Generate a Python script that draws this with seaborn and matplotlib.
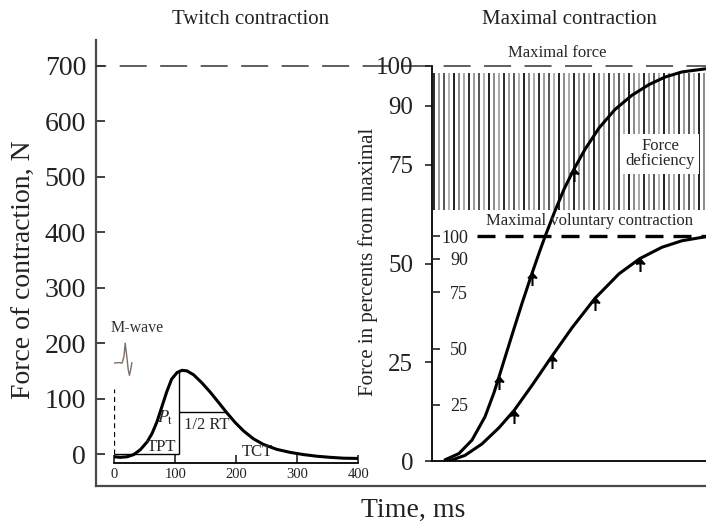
import numpy as np
import matplotlib
matplotlib.use('Agg')
import matplotlib.pyplot as plt
from matplotlib.path import Path
import seaborn as sns

## data
# twitch contraction (time, ms / force, N)
twitch_t = [0, 10, 21, 32, 43, 54, 62, 70, 78, 86, 94, 103, 111, 119, 130, 144,
            157, 171, 184, 198, 212, 228, 244, 266, 288, 310, 332, 354, 375, 400]
twitch_f = [-5, -6, -5, -1, 8, 22, 37, 58, 85, 112, 135, 147, 151, 150, 143, 128,
            112, 93, 75, 57, 41.5, 27.5, 17.5, 8.5, 3, -1, -4, -6, -7.5, -8]
twitch_ticks = [0, 100, 200, 300, 400]
force_ticks = [0, 100, 200, 300, 400, 500, 600, 700]
max_force_n = 700
tpt_ms = 106
peak_n = 150
half_rt_end = 184
half_n = 75

# M-wave trace (small inset)
mwave_t = [0, 8, 13, 16, 18, 20, 23, 25, 27, 29]
mwave_f = [164, 165, 164, 176, 200, 182, 152, 142, 152, 165]

# maximal contraction (arbitrary time units, % of maximal force)
max_t = [13, 27, 40, 53, 62, 67, 73, 82, 90, 100, 107, 113, 122, 132, 142, 153,
         167, 183, 200, 217, 233, 250, 274]
max_pct = [0.3, 1.9, 5.3, 11.2, 17.3, 21.3, 26.2, 33.5, 39.9, 47.5, 52.6, 56.8,
           62.7, 68.8, 73.9, 78.9, 84.3, 89, 92.6, 95.3, 97.2, 98.5, 99.3]
max_mark_t = [67, 100, 142]
max_mark_pct = [21.3, 47.5, 73.9]

# maximal voluntary contraction (% of MVC)
mvc_t = [17, 33, 50, 67, 82, 100, 120, 140, 163, 187, 208, 230, 250, 274]
mvc_pct = [0, 2.5, 7.6, 14.8, 22.4, 33.6, 46.6, 59.2, 72.3, 83.2, 90.0, 95.0,
           97.9, 99.7]
mvc_mark_t = [82, 120, 163, 208]
mvc_mark_pct = [22.4, 46.6, 72.3, 90.0]

outer_pct_ticks = [0, 25, 50, 75, 90, 100]
inner_pct_ticks = [25, 50, 75, 90, 100]

sns.set_style('ticks')
plt.rcParams['font.family'] = ['Liberation Serif', 'DejaVu Serif']
plt.rcParams['mathtext.fontset'] = 'stix'
plt.rcParams['lines.solid_joinstyle'] = 'round'

W, H = 706, 522
fig = plt.figure(figsize=(W / 100, H / 100), dpi=100)


def box(x0, x1, ytop, ybot):
    return [x0 / W, 1 - ybot / H, (x1 - x0) / W, (ybot - ytop) / H]


f_lim = (-57.7, 746.9)

# outer frame, force axis
ax_a = fig.add_axes(box(96, 706, 40, 486))
ax_a.set_facecolor('none')
ax_a.set_ylim(*f_lim)
ax_a.set_xlim(0, 1)
for s in ['top', 'right']:
    ax_a.spines[s].set_visible(False)
for s in ['left', 'bottom']:
    ax_a.spines[s].set_color('#4a4a4a')
    ax_a.spines[s].set_linewidth(1.6)
ax_a.set_yticks(force_ticks)
ax_a.set_xticks([])
ax_a.tick_params(axis='y', direction='in', length=6.5, width=1.2, pad=7.2,
                 labelsize=20, colors='#222222')
ax_a.axhline(max_force_n, color='#333333', lw=1.1, ls=(11, (17.7, 8.8)), zorder=5)

# twitch inset
ax_b = fig.add_axes(box(114.2, 358.4, 40, 486))
ax_b.set_facecolor('none')
ax_b.set_xlim(0, 400)
ax_b.set_ylim(*f_lim)
for s in ['top', 'right', 'left']:
    ax_b.spines[s].set_visible(False)
ax_b.spines['bottom'].set_position(('data', -15.5))
ax_b.spines['bottom'].set_bounds(0, 400)
ax_b.spines['bottom'].set_linewidth(1.3)
ax_b.spines['bottom'].set_color('k')
ax_b.set_xticks(twitch_ticks)
ax_b.set_yticks([])
ax_b.tick_params(axis='x', direction='in', length=5.8, width=1.2, pad=3.6,
                 labelsize=10.5, colors='#222222')
sns.lineplot(x=twitch_t, y=twitch_f, ax=ax_b, color='k', lw=2.2, sort=False,
             errorbar=None)
ax_b.plot(mwave_t, mwave_f, color='#7a6e66', lw=1.0)
ax_b.vlines(0, 0, 118, colors='k', lw=0.9, ls=(0, (4, 3)))
ax_b.hlines(0, 0, tpt_ms, colors='k', lw=1.0)
ax_b.vlines(tpt_ms, 0, peak_n, colors='k', lw=1.0)
ax_b.hlines(half_n, tpt_ms, half_rt_end, colors='k', lw=1.0)
ax_b.text(37, 228, 'M-wave', fontsize=11.5, ha='center', va='center', color='#333333')
ax_b.text(78, 13, 'TPT', fontsize=12, ha='center', va='center')
ax_b.text(84, 66, r'$P_\mathrm{t}$', fontsize=13, ha='center', va='center')
ax_b.text(152, 53, '1/2 RT', fontsize=12, ha='center', va='center')
ax_b.text(234, 3, 'TCT', fontsize=12, ha='center', va='center')

# maximal contraction panel (% of maximal force)
ax_c = fig.add_axes(box(432, 706, 66, 461))
ax_c.set_facecolor('none')
ax_c.set_xlim(0, 274)
ax_c.set_ylim(0, 100)
for s in ['top', 'right']:
    ax_c.spines[s].set_visible(False)
for s in ['left', 'bottom']:
    ax_c.spines[s].set_color('k')
    ax_c.spines[s].set_linewidth(1.3)
ax_c.set_yticks(outer_pct_ticks)
ax_c.set_xticks([])
ax_c.tick_params(axis='y', direction='out', length=5, width=1.2, pad=8.6,
                 labelsize=18, colors='#222222')

# hatching of the force deficiency zone
hatch_x = np.arange(2, 274, 5)
hatch_cols = ['#2b2b2b', '#9a9a9a', '#555555', '#b0b0b0', '#1f1f1f', '#8a8a8a',
              '#a8a8a8']
for i, hx in enumerate(hatch_x):
    ax_c.vlines(hx, 63.5, 98.3, colors=hatch_cols[i % len(hatch_cols)], lw=1.4,
                zorder=1)

sns.lineplot(x=max_t, y=max_pct, ax=ax_c, color='k', lw=2.2, sort=False,
             errorbar=None, zorder=3)

arrow = Path([(0, -1), (0, 0), (-0.35, -0.4), (0, 0), (0.35, -0.4)],
             [Path.MOVETO, Path.LINETO, Path.MOVETO, Path.LINETO, Path.LINETO])
ax_c.plot(max_mark_t, max_mark_pct, ls='none', marker=arrow, ms=18, mew=1.5,
          color='k', zorder=3)

ax_c.text(125, 103.3, 'Maximal force', fontsize=12, ha='center', va='center',
          clip_on=False)
ax_c.text(157, 60.8, 'Maximal voluntary contraction', fontsize=12, ha='center',
          va='center', zorder=4)
ax_c.text(228, 77.8, 'Force\ndeficiency', fontsize=12, ha='center', va='center',
          linespacing=0.95, zorder=4,
          bbox=dict(facecolor='white', edgecolor='none', pad=3))

# inner scale (% of MVC)
ax_d = fig.add_axes(box(432, 706, 66, 461))
ax_d.set_facecolor('none')
ax_d.set_xlim(0, 274)
ax_d.set_ylim(0, 100 * 395 / (461 - 236))
for s in ['top', 'right', 'left', 'bottom']:
    ax_d.spines[s].set_visible(False)
ax_d.set_yticks(inner_pct_ticks)
ax_d.set_xticks([])
ax_d.tick_params(axis='y', direction='in', length=5.8, width=1.2, pad=-25.9,
                 labelsize=13, colors='#222222')
ax_d.hlines(100, 45, 274, colors='k', lw=2.4, ls=(0, (5.4, 3)))
sns.lineplot(x=mvc_t, y=mvc_pct, ax=ax_d, color='k', lw=2.2, sort=False,
             errorbar=None)
ax_d.plot(mvc_mark_t, mvc_mark_pct, ls='none', marker=arrow, ms=18, mew=1.5,
          color='k')

# titles and axis labels
fig.text(251 / W, 1 - 20 / H, 'Twitch contraction', fontsize=15, ha='center',
         va='center', color='#222222')
fig.text(569 / W, 1 - 20 / H, 'Maximal contraction', fontsize=15, ha='center',
         va='center', color='#222222')
fig.text(24 / W, 1 - 270 / H, 'Force of contraction, N', fontsize=20,
         rotation=90, ha='center', va='center', color='#222222')
fig.text(368 / W, 1 - 262 / H, 'Force in percents from maximal', fontsize=15,
         rotation=90, ha='center', va='center', color='#222222')
fig.text(413 / W, 1 - 510 / H, 'Time, ms', fontsize=20, ha='center',
         va='center', color='#222222')

fig.savefig('out.png', dpi=100)
